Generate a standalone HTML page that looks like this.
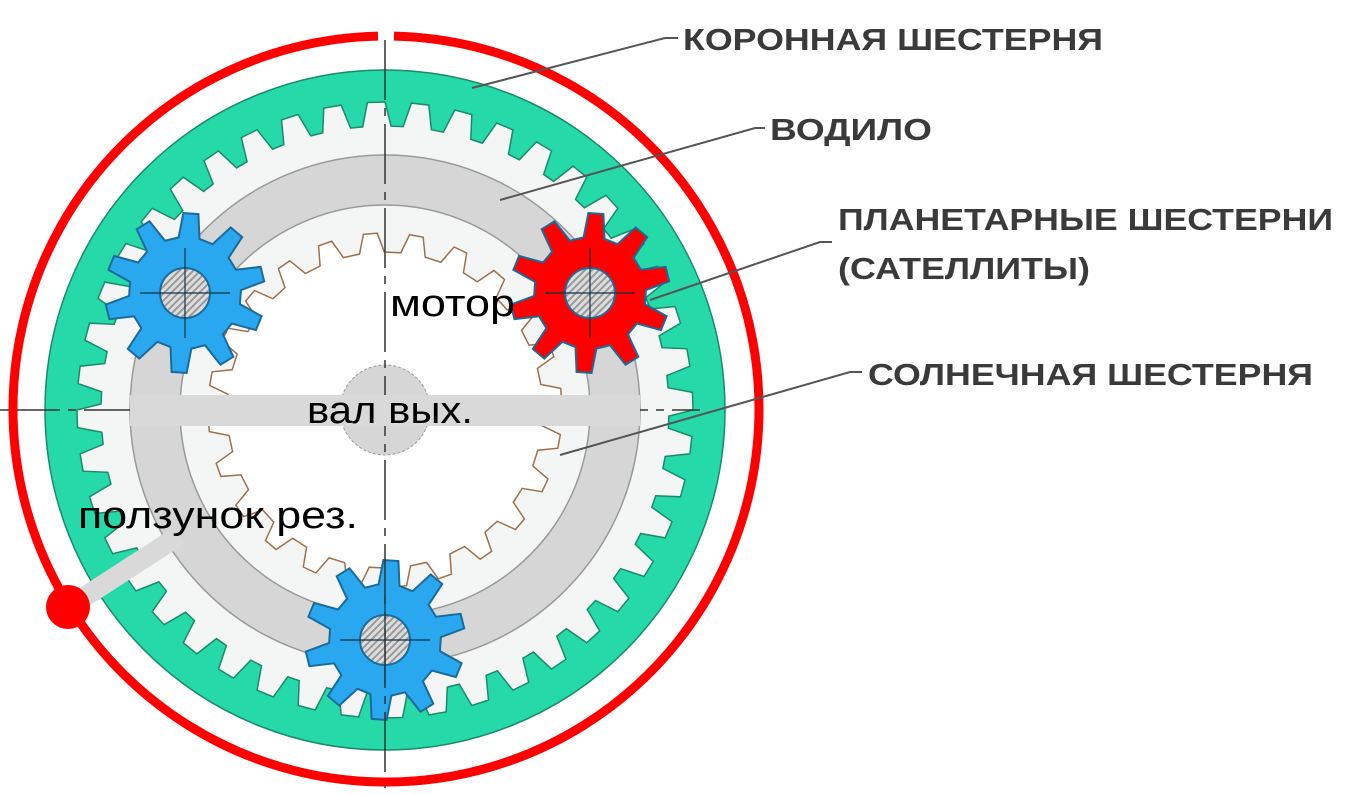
<!DOCTYPE html>
<html><head><meta charset="utf-8"><style>
html,body{margin:0;padding:0;background:#fff;}
svg{display:block;}
.lbl{font-family:"Liberation Sans",sans-serif;font-size:31px;font-weight:bold;fill:#3a3a3a;}
.blk{font-family:"Liberation Sans",sans-serif;font-size:38px;fill:#000;}
</style></head><body>
<svg id="s" width="1350" height="795" viewBox="0 0 1350 795" xmlns="http://www.w3.org/2000/svg">
<defs><clipPath id="hc"><rect x="0" y="0" width="0" height="0"/></clipPath></defs>
<rect width="1350" height="795" fill="#fff"/>
<g id="g"></g>
<line x1="0" y1="410" x2="700" y2="410" stroke="#333" stroke-width="1.5" stroke-dasharray="60 8 8 8"/>
<line x1="385" y1="40" x2="385" y2="795" stroke="#333" stroke-width="1.5" stroke-dasharray="60 8 8 8"/>
<rect x="130" y="395" width="510" height="31" fill="#d9d9d9"/>
<line x1="72" y1="605" x2="180" y2="535" stroke="#d9d9d9" stroke-width="20"/>
<circle cx="68" cy="607" r="22" fill="#f00"/>
<path d="M 378 36.1 A 373 373 0 1 0 394 36.1" fill="none" stroke="#f00" stroke-width="9"/>
<g stroke="#555" stroke-width="2" fill="none">
<polyline points="472,88 665,38 678,38"/>
<polyline points="500,200 755,128 765,128"/>
<polyline points="650,300 820,242 832,242"/>
<polyline points="560,455 850,372 862,372"/>
</g>
<text class="lbl" x="683" y="50" textLength="420" lengthAdjust="spacingAndGlyphs">КОРОННАЯ ШЕСТЕРНЯ</text>
<text class="lbl" x="770" y="140" textLength="162" lengthAdjust="spacingAndGlyphs">ВОДИЛО</text>
<text class="lbl" x="838" y="230" textLength="495" lengthAdjust="spacingAndGlyphs">ПЛАНЕТАРНЫЕ ШЕСТЕРНИ</text>
<text class="lbl" x="838" y="279" textLength="252" lengthAdjust="spacingAndGlyphs">(САТЕЛЛИТЫ)</text>
<text class="lbl" x="868" y="385" textLength="445" lengthAdjust="spacingAndGlyphs">СОЛНЕЧНАЯ ШЕСТЕРНЯ</text>
<text class="blk" x="390" y="316" textLength="125" lengthAdjust="spacingAndGlyphs">мотор</text>
<text class="blk" x="307" y="423" textLength="166" lengthAdjust="spacingAndGlyphs">вал вых.</text>
<text class="blk" x="78" y="528" textLength="280" lengthAdjust="spacingAndGlyphs">ползунок рез.</text>
</svg>
<script>
var cx=385,cy=410,NS="http://www.w3.org/2000/svg",g=document.getElementById('g');
function el(t,a,p){var e=document.createElementNS(NS,t);for(var k in a)e.setAttribute(k,a[k]);(p||g).appendChild(e);return e;}
function gear(x,y,n,rIn,rOut,off){var d="",s=2*Math.PI/n;for(var i=0;i<n;i++){var a=i*s+(off||0);
var pts=[[rIn,a],[rOut,a+s*0.15],[rOut,a+s*0.45],[rIn,a+s*0.6]];
pts.forEach(function(p,j){d+=(i==0&&j==0?"M":"L")+(x+p[0]*Math.cos(p[1])).toFixed(1)+" "+(y+p[0]*Math.sin(p[1])).toFixed(1);});}
return d+"Z";}
el('circle',{cx:cx,cy:cy,r:340,fill:'#26d9a8',stroke:'#1a8a6a','stroke-width':1.5});
el('path',{d:gear(cx,cy,44,308,284,0),fill:'#f4f6f6',stroke:'#1a8a6a','stroke-width':1.5});
el('circle',{cx:cx,cy:cy,r:230,fill:'none',stroke:'#d6d6d6','stroke-width':50});
el('circle',{cx:cx,cy:cy,r:255,fill:'none',stroke:'#999','stroke-width':1.5});
el('circle',{cx:cx,cy:cy,r:205,fill:'none',stroke:'#999','stroke-width':1.5});
el('path',{d:gear(cx,cy,24,158,177,0.1),fill:'#fff',stroke:'#a0704a','stroke-width':1.5});
el('circle',{cx:cx,cy:cy,r:45,fill:'#d6d6d6',stroke:'#999','stroke-width':1,'stroke-dasharray':'3 2'});
[[185,293,'#29a8f0'],[590,293,'#ff0000'],[385,640,'#29a8f0']].forEach(function(p,i){
el('path',{d:gear(p[0],p[1],10,56,80,0.2),fill:p[2],stroke:'#1a6a9a','stroke-width':2});
var cp=el('clipPath',{id:'c'+i},document.querySelector('defs'));
el('circle',{cx:p[0],cy:p[1],r:25},cp);
el('circle',{cx:p[0],cy:p[1],r:25,fill:'#ddd'});
for(var k=-4;k<=4;k++)el('line',{x1:p[0]-25+k*7,y1:p[1]+25,x2:p[0]+25+k*7,y2:p[1]-25,stroke:'#999','stroke-width':2,'clip-path':'url(#c'+i+')'});
el('circle',{cx:p[0],cy:p[1],r:25,fill:'none',stroke:'#1a6a9a','stroke-width':2});
el('line',{x1:p[0]-45,y1:p[1],x2:p[0]+45,y2:p[1],stroke:'#134','stroke-width':1.2});
el('line',{x1:p[0],y1:p[1]-45,x2:p[0],y2:p[1]+45,stroke:'#134','stroke-width':1.2});
});
</script>
</body></html>
